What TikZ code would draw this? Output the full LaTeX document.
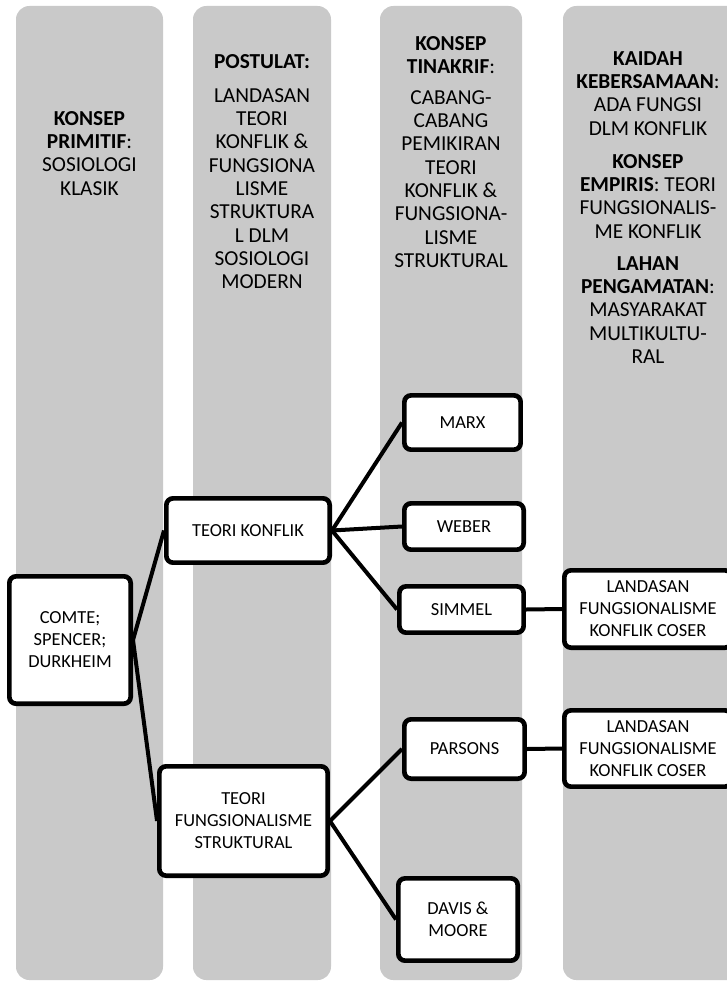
\documentclass[tikz,border=0pt]{standalone}
\usepackage{fontspec}
\setmainfont{Carlito}
\definecolor{lanegray}{RGB}{201,201,201}
\tikzset{
  lane/.style={fill=lanegray, rounded corners=10pt},
  head/.style={anchor=north, inner sep=0pt, align=center,
    font=\fontsize{16}{17.5}\selectfont},
  box/.style={draw=black, line width=3.5pt, fill=white, rounded corners=5pt,
    inner sep=0pt, align=center, font=\fontsize{13.8}{16.5}\selectfont},
  link/.style={line width=3pt}
}
\begin{document}
\begin{tikzpicture}[x=0.75pt,y=-0.75pt]
\useasboundingbox (0,0) rectangle (727,981);
\clip (0,0) rectangle (727,981);

% four vertical lanes
\fill[lane] (16,6) rectangle (163,980);
\fill[lane] (193,6) rectangle (331,980);
\fill[lane] (380,6) rectangle (522,980);
\fill[lane] (563,6) rectangle (745,980);

% lane headings
\node[head] (h1) at (89.5,111) {\textbf{KONSEP}\\\textbf{PRIMITIF}:\\SOSIOLOGI\\KLASIK};
\node[head] (h2a) at (262,54) {\textbf{POSTULAT:}};
\node[head] (h2b) at (262,88) {LANDASAN\\TEORI\\KONFLIK \&\\FUNGSIONA\\LISME\\STRUKTURA\\L DLM\\SOSIOLOGI\\MODERN};
\node[head] (h3a) at (451,36) {\textbf{KONSEP}\\\textbf{TINAKRIF}:};
\node[head] (h3b) at (451,90) {CABANG-\\CABANG\\PEMIKIRAN\\TEORI\\KONFLIK \&\\FUNGSIONA-\\LISME\\STRUKTURAL};
\node[head] (h4a) at (648,51) {\textbf{KAIDAH}\\\textbf{KEBERSAMAAN}:\\ADA FUNGSI\\DLM KONFLIK};
\node[head] (h4b) at (648,154) {\textbf{KONSEP}\\\textbf{EMPIRIS}: TEORI\\FUNGSIONALIS-\\ME KONFLIK};
\node[head] (h4c) at (648,256) {\textbf{LAHAN}\\\textbf{PENGAMATAN}:\\MASYARAKAT\\MULTIKULTU-\\RAL};

% boxes
\node[box, minimum width=91pt, minimum height=95.5pt] (comte) at (70,640) {COMTE;\\SPENCER;\\DURKHEIM};
\node[box, minimum width=122.5pt, minimum height=48.2pt] (konflik) at (248,530.5) {TEORI KONFLIK};
\node[box, minimum width=126.2pt, minimum height=82pt] (fungsi) at (243.5,821) {TEORI\\FUNGSIONALISME\\STRUKTURAL};
\node[box, minimum width=87.2pt, minimum height=40.7pt] (marx) at (462.5,422.5) {MARX};
\node[box, minimum width=89.5pt, minimum height=34.7pt] (weber) at (464,526.5) {WEBER};
\node[box, minimum width=93.2pt, minimum height=34.7pt] (simmel) at (461.5,609.5) {SIMMEL};
\node[box, minimum width=90.2pt, minimum height=44.5pt] (parsons) at (464.5,749) {PARSONS};
\node[box, minimum width=89.5pt, minimum height=61.7pt] (davis) at (458,919.5) {DAVIS \&\\MOORE};
\node[box, minimum width=125.5pt, minimum height=58pt] (coserA) at (648,609) {LANDASAN\\FUNGSIONALISME\\KONFLIK COSER};
\node[box, minimum width=125.5pt, minimum height=57.2pt] (coserB) at (648,748.5) {LANDASAN\\FUNGSIONALISME\\KONFLIK COSER};

% connectors
\draw[link] (comte.east) -- (konflik.west);
\draw[link] (comte.east) -- (fungsi.west);
\draw[link] (konflik.east) -- (marx.west);
\draw[link] (konflik.east) -- (weber.west);
\draw[link] (konflik.east) -- (simmel.west);
\draw[link] (fungsi.east) -- (parsons.west);
\draw[link] (fungsi.east) -- (davis.west);
\draw[link] (simmel.east) -- (coserA.west);
\draw[link] (parsons.east) -- (coserB.west);
\end{tikzpicture}
\end{document}
